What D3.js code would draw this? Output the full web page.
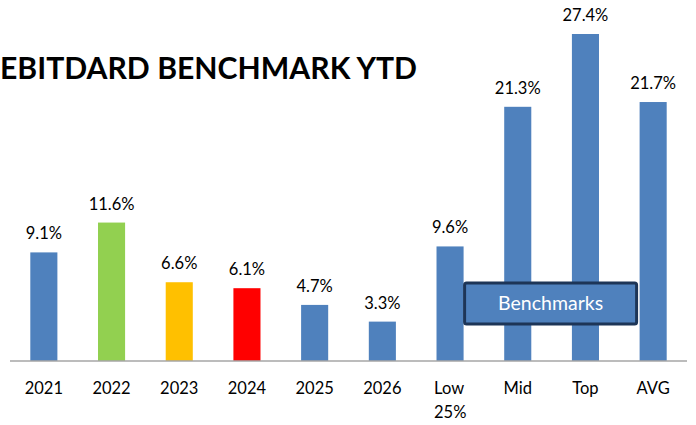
<!DOCTYPE html>
<html><head><meta charset="utf-8">
<script src="https://cdn.jsdelivr.net/npm/d3@7"></script>
<style>html,body{margin:0;padding:0;background:#fff;}svg{display:block;}</style>
</head><body>
<script>
const categories = ["2021","2022","2023","2024","2025","2026","Low 25%","Mid","Top","AVG"];
const values = [9.1, 11.6, 6.6, 6.1, 4.7, 3.3, 9.6, 21.3, 27.4, 21.7];
const barColors = ["#4f81bd","#92d050","#ffc000","#ff0000","#4f81bd","#4f81bd","#4f81bd","#4f81bd","#4f81bd","#4f81bd"];
const title = "EBITDARD BENCHMARK YTD";
const boxLabel = "Benchmarks";

const W = 696, H = 425;
const svg = d3.select("body").append("svg").attr("width", W).attr("height", H);
const font = "Lato, 'Open Sans', sans-serif";

const x = d3.scaleBand().domain(categories).range([10, 687]).paddingInner(0.6).paddingOuter(0.3);
const y = d3.scaleLinear().domain([0, 27.4]).range([361, 34]);

svg.selectAll("rect.bar").data(values).enter().append("rect")
  .attr("class","bar")
  .attr("x",(d,i)=>x(categories[i]))
  .attr("width",x.bandwidth())
  .attr("y",d=>y(d))
  .attr("height",d=>y(0)-y(d))
  .attr("fill",(d,i)=>barColors[i]);

svg.selectAll("text.val").data(values).enter().append("text")
  .attr("x",(d,i)=>x(categories[i])+x.bandwidth()/2)
  .attr("y",d=>y(d)-13)
  .attr("text-anchor","middle")
  .style("font-family",font).style("font-size","16.5px").attr("fill","#000")
  .text(d=>d.toFixed(1)+"%");

// axis
const axis = d3.axisBottom(x).tickSize(0).tickFormat("");
const g = svg.append("g").attr("transform","translate(0,361)").call(axis);
g.select(".domain").attr("stroke","#a6a6a6").attr("stroke-width",1.5).attr("d","M10,0H687");

categories.forEach((c,i)=>{
  const cx = x(c)+x.bandwidth()/2;
  const parts = c.split(" ");
  const t = svg.append("text").attr("text-anchor", parts.length>1?"start":"middle")
    .style("font-family",font).style("font-size","16.5px").attr("fill","#000");
  parts.forEach((p,j)=>{
    t.append("tspan").attr("x", parts.length>1? cx-16 : cx).attr("y",394+j*24).text(p);
  });
});

// title
svg.append("text").attr("x",0).attr("y",79)
  .attr("textLength",417).attr("lengthAdjust","spacingAndGlyphs")
  .style("font-family",font).style("font-weight","bold").style("font-size","31px").attr("fill","#000")
  .text(title);

// benchmarks box
const bx0 = x("Low 25%")+x.bandwidth()+1, bx1 = x("AVG")-3;
svg.append("rect").attr("x",bx0).attr("y",283).attr("width",bx1-bx0).attr("height",41)
  .attr("rx",2).attr("fill","#4f81bd").attr("stroke","#1d3557").attr("stroke-width",3);
svg.append("text").attr("x",(bx0+bx1)/2).attr("y",310).attr("text-anchor","middle")
  .style("font-family",font).style("font-size","19.5px").attr("fill","#fff").text(boxLabel);
</script>
</body></html>
